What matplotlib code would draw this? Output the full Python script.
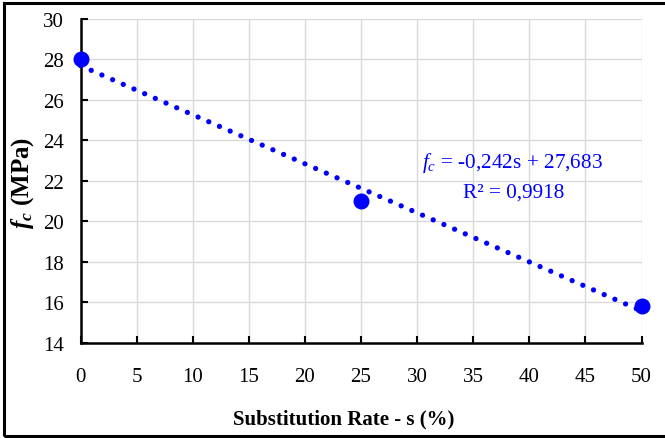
import matplotlib
matplotlib.use("Agg")
import matplotlib.pyplot as plt
from matplotlib.patches import Rectangle
import numpy as np

# Data
substitution = [0, 25, 50]
fc_values = [28.0, 21.0, 15.85]
slope = -0.242
intercept = 27.683
x_ticks = [0, 5, 10, 15, 20, 25, 30, 35, 40, 45, 50]
y_ticks = [14, 16, 18, 20, 22, 24, 26, 28, 30]

plt.rcParams['font.family'] = ['Liberation Serif', 'DejaVu Serif']
plt.rcParams['mathtext.fontset'] = 'custom'
plt.rcParams['mathtext.rm'] = 'Liberation Serif'
plt.rcParams['mathtext.it'] = 'Liberation Serif:italic'
plt.rcParams['mathtext.bf'] = 'Liberation Serif:bold'
try:
    plt.rcParams['mathtext.bfit'] = 'Liberation Serif:italic:bold'
    has_bfit = True
except KeyError:
    has_bfit = False

W, H = 665, 439
fig = plt.figure(figsize=(W / 100, H / 100), dpi=100)
ax = fig.add_axes([80.5 / W, 1 - 344 / H, (641.5 - 80.5) / W, (344 - 19.7) / H])

ax.set_xlim(0, 50)
ax.set_ylim(14, 30)
ax.set_xticks(x_ticks)
ax.set_yticks(y_ticks)
ax.grid(True, color='#d9d9d9', linewidth=1.0)
ax.set_axisbelow(True)
for s in ['top', 'right']:
    ax.spines[s].set_visible(False)
for s in ['left', 'bottom']:
    ax.spines[s].set_linewidth(1.8)
    ax.spines[s].set_color('black')
ax.tick_params(direction='in', length=5, width=1.5, labelsize=15, colors='black')
ax.tick_params(axis='y', pad=12)
ax.tick_params(axis='x', pad=17)

# trendline
xs = np.array([0, 50])
ax.plot(xs, slope * xs + intercept, color='#0000ff', linewidth=3.8,
        linestyle=(0, (0.01, 2.2)), dash_capstyle='round', zorder=3, clip_on=False)
ax.plot(substitution, fc_values, 'o', color='#0000ff', markersize=10.5,
        zorder=4, clip_on=False)

ax.set_xlabel('Substitution Rate - s (%)', fontsize=15, fontweight='bold')
ax.xaxis.set_label_coords(0.47, -0.203)
ylab = r'$\mathbfit{f_c}$ (MPa)' if has_bfit else r'$f_c$ (MPa)'
ax.set_ylabel(ylab, fontsize=18, fontweight='bold')
ax.yaxis.set_label_coords(-0.08, 0.497)

fig.text(512 / W, 1 - 163 / H, r'$f_c$ = -0,242s + 27,683', color='#0000ff',
         fontsize=15.3, ha='center', va='center')
fig.text(514 / W, 1 - 193 / H, 'R² = 0,9918', color='#0000ff',
         fontsize=15.3, ha='center', va='center')

fig.patches.append(Rectangle((4 / W, 1 - 437 / H), 1.0, (437 - 4) / H,
                             transform=fig.transFigure, fill=False,
                             edgecolor='black', linewidth=2.2))

fig.savefig('out.png', dpi=100)
